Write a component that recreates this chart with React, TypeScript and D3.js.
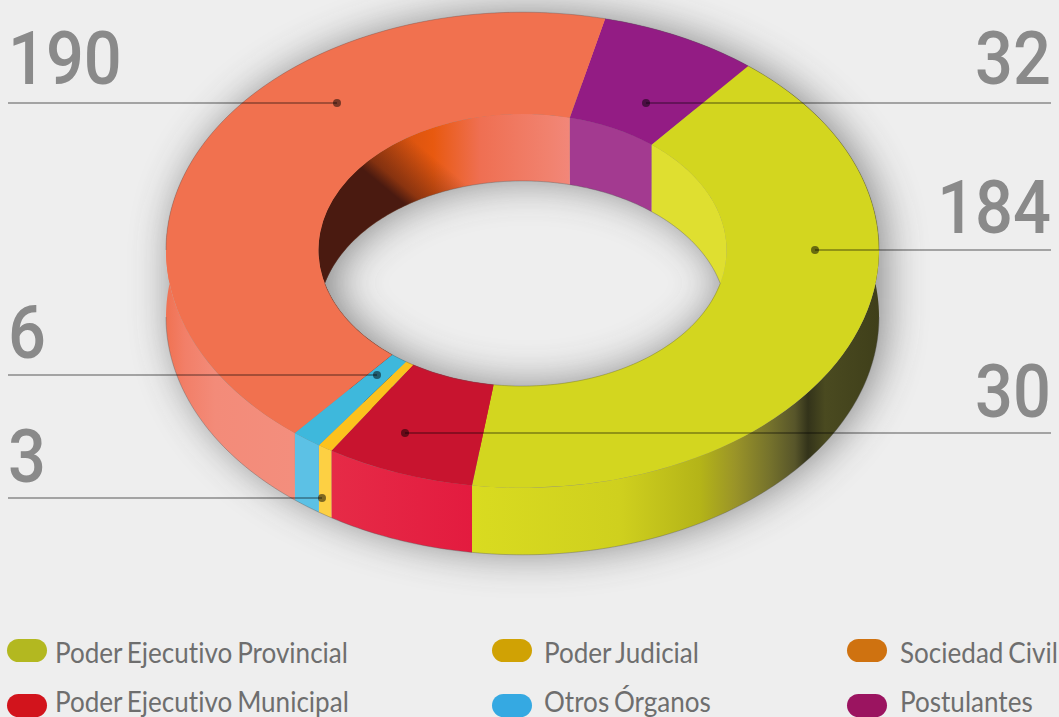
import * as d3 from 'd3'

// values, clockwise from the purple slice
const categories = ['Postulantes', 'Poder Ejecutivo Provincial', 'Poder Ejecutivo Municipal', 'Poder Judicial', 'Otros Órganos', 'Sociedad Civil']
const values = [32, 184, 30, 3, 6, 190]

// legend order, row by row
const legendCategories = ['Poder Ejecutivo Provincial', 'Poder Ejecutivo Municipal', 'Poder Judicial', 'Otros Órganos', 'Sociedad Civil', 'Postulantes']
const legendColors = ['#b3b820', '#d2141c', '#d0a204', '#35a9e2', '#cf7210', '#9b1460']

const topColors = ['#931c84', '#d3d61f', '#c8142f', '#fcc21d', '#3eb8dc', '#f1714f']
const outerWallFills = ['#931c84', 'url(#wallYellow)', 'url(#wallRed)', '#fdd043', '#5cc1e5', 'url(#wallCoral)']
const innerWallFills = ['#a33a90', '#dfdf30', '#c8142f', '#fcc21d', '#3eb8dc', 'url(#wallOrange)']

const W = 1059
const H = 717
const cx = 522.5
const cy = 250
const outerR = 356.5
const innerR = 204
const squash = 0.667
const depth = 67
const rad = (deg: number) => (deg * Math.PI) / 180
const startDeg = 13.4

const pie = d3.pie<number>().sort(null).value(d => d)
  .startAngle(rad(startDeg)).endAngle(rad(startDeg + 360))
const slices = pie(values)

const ring = d3.arc<any>().innerRadius(innerR).outerRadius(outerR)
const line = d3.line()

// point on the ellipse of radius r, angle as in d3.arc (0 at 12 o'clock)
const pt = (r: number, a: number, dy = 0): [number, number] =>
  [cx + r * Math.sin(a), cy - r * squash * Math.cos(a) + dy]

const arcPts = (r: number, a0: number, a1: number, dy = 0) => {
  const n = Math.max(2, Math.ceil(Math.abs(a1 - a0) / rad(1)))
  return d3.range(n + 1).map(i => pt(r, a0 + ((a1 - a0) * i) / n, dy))
}

const wall = (r: number, a0: number, a1: number) =>
  line([...arcPts(r, a0, a1), ...arcPts(r, a1, a0, depth)]) + 'Z'

const shadowSteps = d3.range(0, depth + 1, 6)

// leader lines and big numbers
const leaders = [
  { value: 190, dot: [337, 103], end: 8, tx: 8, ty: 84, anchor: 'start' },
  { value: 32, dot: [646, 103], end: 1051, tx: 1051, ty: 84, anchor: 'end' },
  { value: 184, dot: [815, 250], end: 1051, tx: 1051, ty: 233, anchor: 'end' },
  { value: 6, dot: [377, 375], end: 8, tx: 8, ty: 358, anchor: 'start' },
  { value: 30, dot: [405, 433], end: 1051, tx: 1051, ty: 417, anchor: 'end' },
  { value: 3, dot: [322, 498], end: 8, tx: 8, ty: 482, anchor: 'start' },
]

const legendCols = [7, 492, 847]
const legendTextX = [55, 544, 900]
const legendRows = [639, 694]
const legendBaselines = [663, 711.5]

const yellowStops: [number, string][] = [[473, '#d9db20'], [620, '#cfd01e'], [700, '#b4b418'], [735, '#9a9428'], [770, '#75722c'], [795, '#57552a'], [808, '#33331a'], [825, '#4a4a20'], [879, '#3f3f1a']]
const redStops: [number, string][] = [[329, '#e62b47'], [473, '#e31b3f']]
const orangeStops: [number, string][] = [[318, '#4a1a10'], [360, '#c04a10'], [433, '#e8590f'], [480, '#ef6f52'], [550, '#f1826f'], [571, '#f2877a']]
const coralStops: [number, string][] = [[166, '#f07252'], [185, '#f27f68'], [215, '#f38b79'], [293, '#f38e7d']]

const gradient = (id: string, stops: [number, string][]) => {
  const x0 = stops[0][0]
  const x1 = stops[stops.length - 1][0]
  return (
    <linearGradient key={id} id={id} gradientUnits="userSpaceOnUse" x1={x0} x2={x1} y1={0} y2={0}>
      {stops.map(([x, c]) => <stop key={x} offset={(x - x0) / (x1 - x0)} stopColor={c} />)}
    </linearGradient>
  )
}

export default function App() {
  const tip = Math.acos((depth / 2) / (innerR * squash))
  return (
    <svg width={W} height={H} viewBox={`0 0 ${W} ${H}`} style={{ position: 'absolute', left: 0, top: 0, display: 'block' }}>
      <defs>
        {gradient('wallYellow', yellowStops)}
        {gradient('wallRed', redStops)}
        {gradient('wallOrange', orangeStops)}
        {gradient('wallCoral', coralStops)}
        <linearGradient id="wallDark" gradientUnits="userSpaceOnUse" x1={379} y1={189} x2={417} y2={143}>
          <stop offset={0} stopColor="#4a1a10" />
          <stop offset={0.08} stopColor="#4a1a10" />
          <stop offset={0.3} stopColor="#4a1a10" stopOpacity={0.55} />
          <stop offset={1} stopColor="#4a1a10" stopOpacity={0} />
        </linearGradient>
        <filter id="blur" filterUnits="userSpaceOnUse" x={0} y={-60} width={W + 100} height={H + 60}>
          <feGaussianBlur stdDeviation={20} />
        </filter>
      </defs>

      <rect width={W} height={H} fill="#eeeeee" />

      {/* soft shadow under the ring */}
      <g filter="url(#blur)" opacity={0.6} fill="#444">
        {shadowSteps.map(dy => (
          <path key={dy} d={ring({ startAngle: 0, endAngle: 2 * Math.PI }) as string}
            transform={`translate(${cx + 6},${cy + dy}) scale(1,${squash})`} />
        ))}
      </g>

      {/* inner walls */}
      {slices.map((s, i) => (
        <path key={i} d={wall(innerR, s.startAngle, s.endAngle)} fill={innerWallFills[i]} />
      ))}
      <path d={wall(innerR, slices[5].startAngle, slices[5].endAngle)} fill="url(#wallDark)" />

      {/* outer walls */}
      {slices.map((s, i) => (
        <path key={i} d={wall(outerR, s.startAngle, s.endAngle)} fill={outerWallFills[i]} />
      ))}

      {/* top face */}
      <g transform={`translate(${cx},${cy}) scale(1,${squash})`}>
        {slices.map((s, i) => (
          <path key={categories[i]} d={ring(s) as string} fill={topColors[i]} />
        ))}
      </g>

      {/* thin outlines */}
      <g fill="none" stroke="#555" strokeOpacity={0.45} strokeWidth={0.8}>
        <path d={line(arcPts(outerR, rad(-90), rad(90))) as string} />
        <path d={line(arcPts(outerR, rad(90), rad(270), depth)) as string} />
        <path d={line(arcPts(innerR, rad(180) - tip, rad(180) + tip)) as string} />
        <path d={line(arcPts(innerR, -tip, tip, depth)) as string} />
      </g>

      {/* leaders */}
      {leaders.map(d => (
        <g key={d.value}>
          <line x1={d.dot[0]} x2={d.end} y1={d.dot[1]} y2={d.dot[1]} stroke="#000" strokeOpacity={0.42} strokeWidth={1.3} />
          <circle cx={d.dot[0]} cy={d.dot[1]} r={4} fill="#000" fillOpacity={0.5} />
          <text transform={`translate(${d.tx},${d.ty}) scale(0.89,1)`} textAnchor={d.anchor as any}
            fontFamily="Roboto" fontWeight={500} fontSize={75} fill="#8a8a8a">{d.value}</text>
        </g>
      ))}

      {/* legend */}
      {legendCategories.map((name, i) => {
        const col = Math.floor(i / 2)
        const row = i % 2
        return (
          <g key={name}>
            <rect x={legendCols[col]} y={legendRows[row]} width={40} height={23} rx={11.5} fill={legendColors[i]} />
            <text transform={`translate(${legendTextX[col]},${legendBaselines[row]}) scale(0.915,1)`}
              fontFamily="Lato" fontSize={28.5} fill="#6e6e6e"
              style={{ wordSpacing: -2, fontVariantLigatures: 'none' }}>{name}</text>
          </g>
        )
      })}
    </svg>
  )
}
